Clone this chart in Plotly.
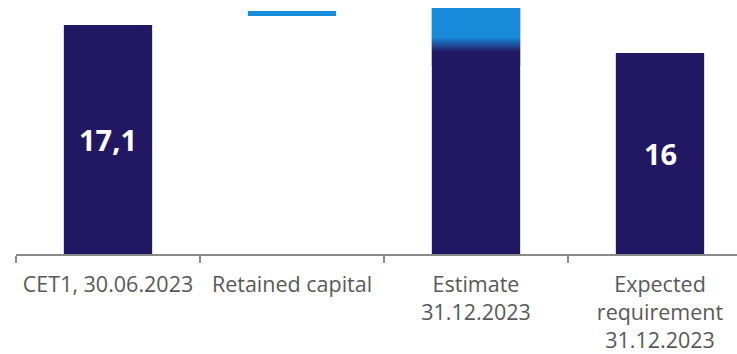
import plotly.graph_objects as go

# Capital walk (CET1, %)
categories = ["CET1, 30.06.2023", "Retained capital", "Estimate<br>31.12.2023",
              "Expected<br>requirement<br>31.12.2023"]
bar_values = [17.1, None, 17.77, 16.0]          # solid navy columns
bar_labels = ["17,1", "", "", "16"]
retained_base = 17.45                            # floating step for retained capital
retained_value = 0.20
estimate_add_low = 15.49                         # highlighted top part of the estimate
estimate_add_high = 17.77

NAVY = "#221763"
BLUE = "#188cdb"
AXIS_GREY = "#8a8a8a"
TEXT_GREY = "#595959"

Y_RANGE = [8.10, 18.08]
BAR_W = 0.48
X_RANGE = [-0.5, -0.5 + 721 / 184]

fig = go.Figure()

fig.add_trace(go.Bar(
    x=categories, y=bar_values, width=BAR_W,
    marker=dict(color=NAVY, line=dict(width=0)),
    hoverinfo="skip", showlegend=False,
))

fig.add_trace(go.Bar(
    x=[categories[1]], y=[retained_value], base=[retained_base], width=BAR_W,
    marker=dict(color=BLUE, line=dict(width=0)),
    hoverinfo="skip", showlegend=False,
))

# Gradient block on top of the estimate column (navy at the bottom fading into blue)
cx = 2
xs = [cx - BAR_W / 2, cx + BAR_W / 2, cx + BAR_W / 2, cx - BAR_W / 2, cx - BAR_W / 2]
ys = [estimate_add_low, estimate_add_low, estimate_add_high, estimate_add_high, estimate_add_low]
fig.add_trace(go.Scatter(
    x=xs, y=ys, xaxis="x2", mode="lines", line=dict(width=0),
    fill="toself",
    fillgradient=dict(type="vertical",
                      colorscale=[[0, NAVY], [0.24, NAVY], [0.5, BLUE], [1, BLUE]]),
    hoverinfo="skip", showlegend=False,
))

# Value labels centred in the visible part of each column
for cat, val, lab in zip(categories, bar_values, bar_labels):
    if lab:
        fig.add_annotation(
            x=cat, y=(Y_RANGE[0] + val) / 2, text=f"<b>{lab}</b>", showarrow=False,
            font=dict(family="Open Sans", size=29, color="white"),
            xanchor="center", yanchor="middle",
        )

fig.update_layout(
    width=737, height=354,
    margin=dict(l=16, r=0, t=0, b=100),
    paper_bgcolor="white", plot_bgcolor="white",
    barmode="overlay",
    xaxis=dict(
        type="category", range=X_RANGE, showgrid=False, zeroline=False,
        showline=True, linecolor=AXIS_GREY, linewidth=2,
        ticks="outside", tickson="boundaries", ticklen=7, tickwidth=2, tickcolor=AXIS_GREY,
        ticklabelstandoff=10,
        tickfont=dict(family="Open Sans", size=21.5, color=TEXT_GREY),
        fixedrange=True,
    ),
    xaxis2=dict(overlaying="x", range=X_RANGE, visible=False, fixedrange=True),
    yaxis=dict(range=Y_RANGE, visible=False, showgrid=False, zeroline=False, fixedrange=True),
)

fig.write_html("out.html", config={"displayModeBar": False})
